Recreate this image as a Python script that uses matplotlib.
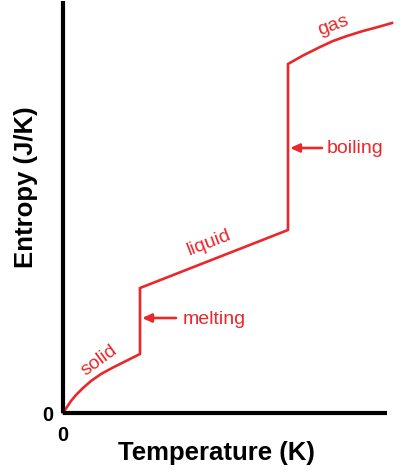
import matplotlib
matplotlib.use("Agg")
import matplotlib.pyplot as plt
import numpy as np

plt.rcParams['font.family'] = ['Liberation Sans', 'DejaVu Sans']

# Data (arbitrary units)
solid_T = [0, 4, 8, 13, 20, 28, 38, 50, 63, 77]
solid_S = [0, 6, 12, 18, 25, 32, 39, 45.5, 52, 59]
liquid_T = [77, 225]
liquid_S = [125, 183]
gas_T = [225, 240, 256, 270, 284, 300, 315, 329]
gas_S = [349, 357.5, 365.5, 372, 377, 382, 386, 390]

tick_labels = ["0"]
xlabel = "Temperature (K)"
ylabel = "Entropy (J/K)"
phase_labels = ["solid", "liquid", "gas"]
transition_labels = ["melting", "boiling"]

RED = '#e8282a'

T = np.array(solid_T + liquid_T + gas_T, dtype=float)
S = np.array(solid_S + liquid_S + gas_S, dtype=float)

fig = plt.figure(figsize=(4.0, 4.73), dpi=100)
ax = fig.add_axes([63/400, 60/473, 324/400, 412/473])
ax.set_xlim(0, 324)
ax.set_ylim(0, 412)

ax.plot(T, S, color=RED, lw=1.9, solid_joinstyle='miter', clip_on=False)

for s in ['top', 'right']:
    ax.spines[s].set_visible(False)
for s in ['left', 'bottom']:
    ax.spines[s].set_linewidth(3.0)
    ax.spines[s].set_color('black')
    ax.spines[s].set_capstyle('butt')

ax.set_xticks([0])
ax.set_xticklabels(tick_labels, fontsize=14.5, fontweight='bold')
ax.set_yticks([0])
ax.set_yticklabels(tick_labels, fontsize=14.5, fontweight='bold')
ax.tick_params(axis='x', length=0, pad=9)
ax.tick_params(axis='y', length=0, pad=7)

fig.text(216/400, 1 - 453/473, xlabel, fontsize=18.5, fontweight='bold',
         ha='center', va='center')
fig.text(26/400, 1 - 187/473, ylabel, fontsize=18.5, fontweight='bold',
         ha='center', va='center', rotation=90)

# phase labels
ax.text(36, 53, phase_labels[0], color=RED, fontsize=14, rotation=36,
        ha='center', va='center', rotation_mode='anchor')
ax.text(146, 170, phase_labels[1], color=RED, fontsize=14, rotation=21,
        ha='center', va='center', rotation_mode='anchor')
ax.text(270, 387, phase_labels[2], color=RED, fontsize=14, rotation=20,
        ha='center', va='center', rotation_mode='anchor', clip_on=False)

# transition arrows
arrow_kw = dict(arrowstyle='-|>,head_length=0.55,head_width=0.25', color=RED, lw=1.9,
                shrinkA=0, shrinkB=0)
ax.annotate('', xy=(79, 95), xytext=(113, 95), arrowprops=arrow_kw)
ax.text(120, 94, transition_labels[0], color=RED, fontsize=14, ha='left', va='center')
ax.annotate('', xy=(227, 265), xytext=(259, 265), arrowprops=arrow_kw)
ax.text(264, 264.5, transition_labels[1], color=RED, fontsize=14, ha='left', va='center')

fig.savefig('out.png', dpi=100)
